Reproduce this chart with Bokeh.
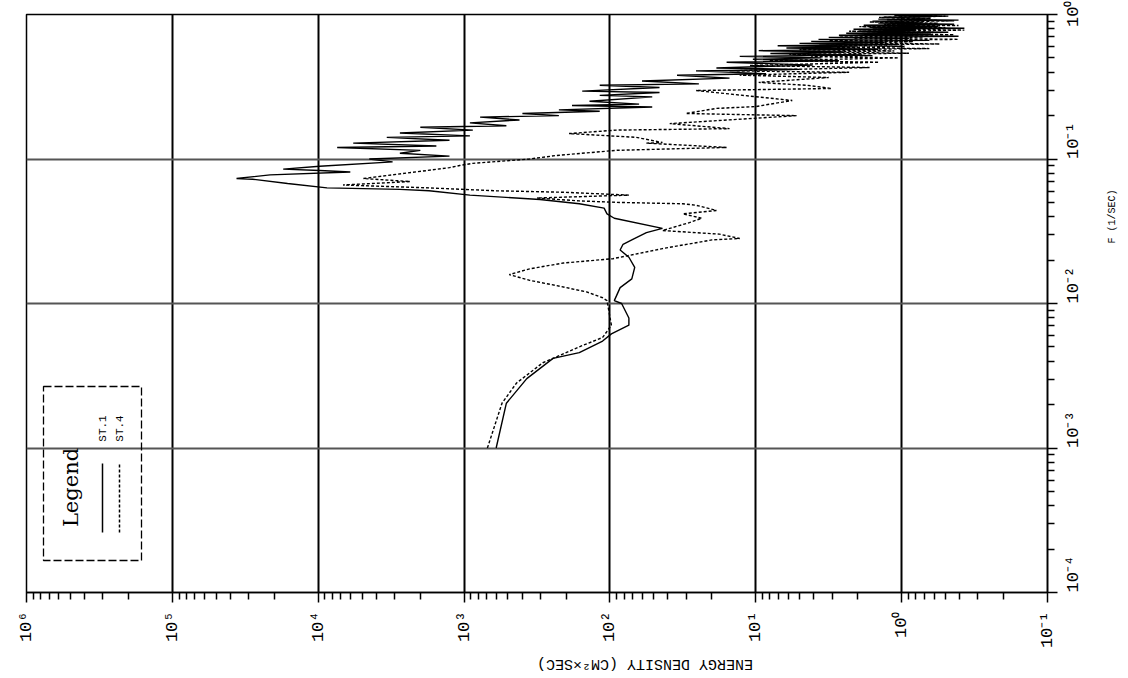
import math
from bokeh.plotting import figure
from bokeh.models import FixedTicker, Range1d, Label, BoxAnnotation, PolyAnnotation
from bokeh.embed import file_html
from bokeh.resources import INLINE

# ---- axis ticks ----
e_ticks = [1e-1, 1e0, 1e1, 1e2, 1e3, 1e4, 1e5, 1e6]
e_tick_labels = ["10⁻¹", "10⁰", "10¹", "10²", "10³", "10⁴", "10⁵", "10⁶"]
f_ticks = [1e-4, 1e-3, 1e-2, 1e-1, 1e0]
f_tick_labels = ["10⁻⁴", "10⁻³", "10⁻²", "10⁻¹", "10⁰"]

# ---- ST.1 (solid): log10 of energy density and of frequency ----
st1_log_e = [2.78, 2.71, 2.57, 2.39, 2.21, 2.05, 1.99, 1.87, 1.87, 1.92,
             1.97, 1.93, 1.85, 1.83, 1.87, 1.93, 1.91, 1.85, 1.75, 1.64,
             1.97, 2.02, 2.04, 2.21, 2.48, 2.96, 3.24, 3.44, 3.94, 4.21,
             4.45, 4.56, 4.33, 3.78, 3.99, 4.24, 3.99, 3.49, 3.65, 3.10,
             3.44, 3.30, 3.87, 3.19, 3.76, 3.10, 3.53, 2.96, 3.44, 2.94,
             3.30, 2.71, 2.96, 2.62, 2.89, 2.35, 2.60, 2.07, 2.35, 1.71,
             2.26, 1.80, 2.14, 1.71, 2.07, 1.66, 2.19, 1.66, 2.07, 1.39,
             1.78, 1.18, 1.54, 0.93, 1.41, 0.70, 1.27, 0.61, 1.20, 0.43,
             1.02, 0.55, 1.11, 0.27, 0.90, 0.40, 0.98, 0.16, 0.79, 0.30,
             0.85, 0.02, 0.70, 0.12, 0.62, -0.19, 0.57, -0.05, 0.50, -0.39,
             0.43, -0.20, 0.38, -0.32, 0.29, -0.10, 0.33, -0.43, 0.22, -0.25,
             0.26, -0.36, 0.16, -0.15, 0.20, -0.39, 0.16, -0.20, 0.12, -0.32,
             0.02, -0.26]
st1_log_f = [-3.00, -2.69, -2.52, -2.38, -2.34, -2.26, -2.21, -2.15, -2.10, -2.00,
             -1.98, -1.89, -1.83, -1.75, -1.68, -1.63, -1.59, -1.56, -1.51, -1.48,
             -1.41, -1.38, -1.34, -1.31, -1.28, -1.25, -1.22, -1.21, -1.20, -1.17,
             -1.14, -1.135, -1.11, -1.09, -1.08, -1.07, -1.05, -1.02, -1.00, -0.98,
             -0.96, -0.94, -0.92, -0.91, -0.89, -0.87, -0.85, -0.84, -0.82, -0.80,
             -0.78, -0.77, -0.75, -0.73, -0.71, -0.70, -0.685, -0.67, -0.66, -0.64,
             -0.63, -0.62, -0.60, -0.57, -0.56, -0.54, -0.53, -0.505, -0.49, -0.48,
             -0.46, -0.44, -0.42, -0.41, -0.39, -0.38, -0.37, -0.35, -0.33, -0.32,
             -0.31, -0.30, -0.29, -0.28, -0.27, -0.26, -0.25, -0.24, -0.232, -0.224,
             -0.216, -0.208, -0.20, -0.193, -0.186, -0.179, -0.172, -0.165, -0.158, -0.151,
             -0.144, -0.137, -0.130, -0.123, -0.116, -0.109, -0.102, -0.095, -0.088, -0.081,
             -0.074, -0.067, -0.060, -0.053, -0.046, -0.039, -0.032, -0.025, -0.018, -0.011,
             -0.005, 0.0]

# ---- ST.4 (dotted) ----
st4_log_e = [2.84, 2.74, 2.64, 2.46, 2.21, 2.05, 1.99, 2.02, 2.05, 2.16,
             2.37, 2.55, 2.69, 2.55, 2.32, 1.98, 1.64, 1.30, 1.11, 1.25,
             1.64, 1.455, 1.37, 1.50, 1.27, 1.41, 1.50, 1.955, 2.21, 2.50,
             1.87, 2.32, 2.78, 3.24, 3.83, 3.37, 3.69, 3.255, 3.10, 3.03,
             2.94, 2.55, 2.37, 1.955, 1.20, 1.75, 1.64, 1.82, 2.28, 1.955,
             1.18, 1.59, 0.72, 1.48, 1.27, 1.00, 0.75, 1.41, 0.48, 0.65,
             0.98, 0.50, 1.11, 0.36, 1.18, 0.22, 1.04, 0.155, 0.91, 0.02,
             0.62, 0.20, 0.77, -0.05, 0.55, 0.05, 0.70, -0.19, 0.45, -0.02,
             0.565, -0.26, 0.40, -0.08, 0.50, -0.39, 0.33, -0.15, 0.43, -0.36,
             0.25, -0.22, 0.36, -0.43, 0.20, -0.30, 0.29, -0.39, 0.12, -0.25,
             0.22, -0.36, 0.10, -0.20, 0.155, -0.30, 0.05, -0.19]
st4_log_f = [-3.00, -2.69, -2.55, -2.41, -2.30, -2.235, -2.15, -1.98, -1.96, -1.92,
             -1.875, -1.84, -1.80, -1.76, -1.72, -1.69, -1.62, -1.56, -1.55, -1.52,
             -1.495, -1.44, -1.41, -1.38, -1.356, -1.32, -1.31, -1.30, -1.29, -1.27,
             -1.25, -1.23, -1.22, -1.20, -1.18, -1.156, -1.135, -1.08, -1.06, -1.045,
             -1.03, -1.00, -0.976, -0.94, -0.92, -0.89, -0.886, -0.85, -0.824, -0.80,
             -0.79, -0.755, -0.70, -0.685, -0.65, -0.637, -0.595, -0.526, -0.512, -0.49,
             -0.47, -0.436, -0.42, -0.40, -0.39, -0.367, -0.353, -0.33, -0.32, -0.30,
             -0.292, -0.284, -0.276, -0.268, -0.26, -0.252, -0.244, -0.236, -0.228, -0.22,
             -0.212, -0.204, -0.196, -0.188, -0.18, -0.172, -0.164, -0.156, -0.148, -0.14,
             -0.132, -0.124, -0.116, -0.108, -0.10, -0.092, -0.084, -0.076, -0.068, -0.06,
             -0.052, -0.044, -0.036, -0.028, -0.02, -0.012, -0.005, 0.0]

st1_e = [10 ** v for v in st1_log_e]
st1_f = [10 ** v for v in st1_log_f]
st4_e = [10 ** v for v in st4_log_e]
st4_f = [10 ** v for v in st4_log_f]

e_minor = [k * 10.0 ** n for n in range(-1, 6) for k in range(2, 10)]
f_minor = [k * 10.0 ** n for n in range(-4, 0) for k in range(2, 10)]

MONO = "Liberation Mono"
NBSP = "\u00a0"

p = figure(frame_width=1021, frame_height=578,
           x_axis_type="log", y_axis_type="log",
           x_range=Range1d(1e6, 1e-1), y_range=Range1d(1e-4, 1.0),
           y_axis_location="right",
           output_backend="svg", toolbar_location=None,
           min_border_left=26, min_border_top=14,
           min_border_right=70, min_border_bottom=70)
p.background_fill_color = "white"
p.border_fill_color = "white"
p.outline_line_color = "black"
p.outline_line_width = 1.5

# x axis (energy density, reversed)
p.xaxis.ticker = FixedTicker(ticks=e_ticks, minor_ticks=e_minor)
p.xaxis.major_label_overrides = dict(zip(e_ticks, e_tick_labels))
p.xaxis.major_label_orientation = math.pi / 2
p.xgrid.ticker = FixedTicker(ticks=e_ticks)
p.xgrid.grid_line_color = "black"
p.xgrid.grid_line_width = 2

p.yaxis.ticker = FixedTicker(ticks=f_ticks, minor_ticks=f_minor)
p.yaxis.major_label_overrides = dict(zip(f_ticks, f_tick_labels))
p.yaxis.major_label_orientation = math.pi / 2
p.ygrid.ticker = FixedTicker(ticks=f_ticks)
p.ygrid.grid_line_color = "#555555"
p.ygrid.grid_line_width = 1.8

for ax in (p.xaxis[0], p.yaxis[0]):
    ax.axis_line_color = "black"
    ax.axis_line_width = 1.6
    ax.major_tick_line_color = "black"
    ax.minor_tick_line_color = "black"
    ax.major_tick_line_width = 1.5
    ax.minor_tick_line_width = 1.5
    ax.major_tick_out = 10
    ax.major_tick_in = 0
    ax.minor_tick_out = 7
    ax.minor_tick_in = 0
    ax.major_label_text_font = MONO
    ax.major_label_text_font_size = "17px"
    ax.major_label_text_color = "black"
    ax.axis_label_text_font = MONO
    ax.axis_label_text_font_style = "normal"
    ax.axis_label_text_color = "black"

p.xaxis.major_label_standoff = 9
p.yaxis.major_label_standoff = 16

# axis titles (rotated as on the scanned sheet)
p.xaxis.axis_label = "ENERGY DENSITY (CM²×SEC)"
p.xaxis.axis_label_text_font_size = "15px"
p.xaxis.axis_label_standoff = 12
p.yaxis.axis_label = NBSP * 10 + "F (1/SEC)"
p.yaxis.axis_label_text_font_size = "10px"
p.yaxis.axis_label_standoff = 17
try:
    p.xaxis.axis_label_orientation = math.pi
    p.yaxis.axis_label_orientation = math.pi / 2
except Exception:
    pass

# curves
p.line(st1_e, st1_f, line_color="black", line_width=1.4)
p.line(st4_e, st4_f, line_color="black", line_width=1.4, line_dash="3 2")

# legend (rotated)
p.add_layout(BoxAnnotation(left=17, right=115, bottom=32, top=206,
                           left_units="screen", right_units="screen",
                           bottom_units="screen", top_units="screen",
                           fill_alpha=0, line_color="black", line_alpha=1.0,
                           line_width=1.3, line_dash="8 3"))
p.add_layout(Label(x=44, y=105, x_units="screen", y_units="screen",
                   text="Legend", angle=math.pi / 2,
                   text_align="center", text_baseline="middle",
                   text_font="DejaVu Serif", text_font_size="21px", text_color="black"))
p.add_layout(PolyAnnotation(xs=[76, 76], ys=[60, 129], xs_units="screen", ys_units="screen",
                            fill_alpha=0, line_color="black", line_alpha=1.0, line_width=1.5))
p.add_layout(PolyAnnotation(xs=[93, 93], ys=[60, 129], xs_units="screen", ys_units="screen",
                            fill_alpha=0, line_color="black", line_alpha=1.0, line_width=1.5,
                            line_dash="3 2"))
p.add_layout(Label(x=76, y=164, x_units="screen", y_units="screen",
                   text="ST.1", angle=math.pi / 2,
                   text_align="center", text_baseline="middle",
                   text_font=MONO, text_font_size="11px", text_color="black"))
p.add_layout(Label(x=93, y=164, x_units="screen", y_units="screen",
                   text="ST.4", angle=math.pi / 2,
                   text_align="center", text_baseline="middle",
                   text_font=MONO, text_font_size="11px", text_color="black"))

open("out.html", "w").write(file_html(p, INLINE))
